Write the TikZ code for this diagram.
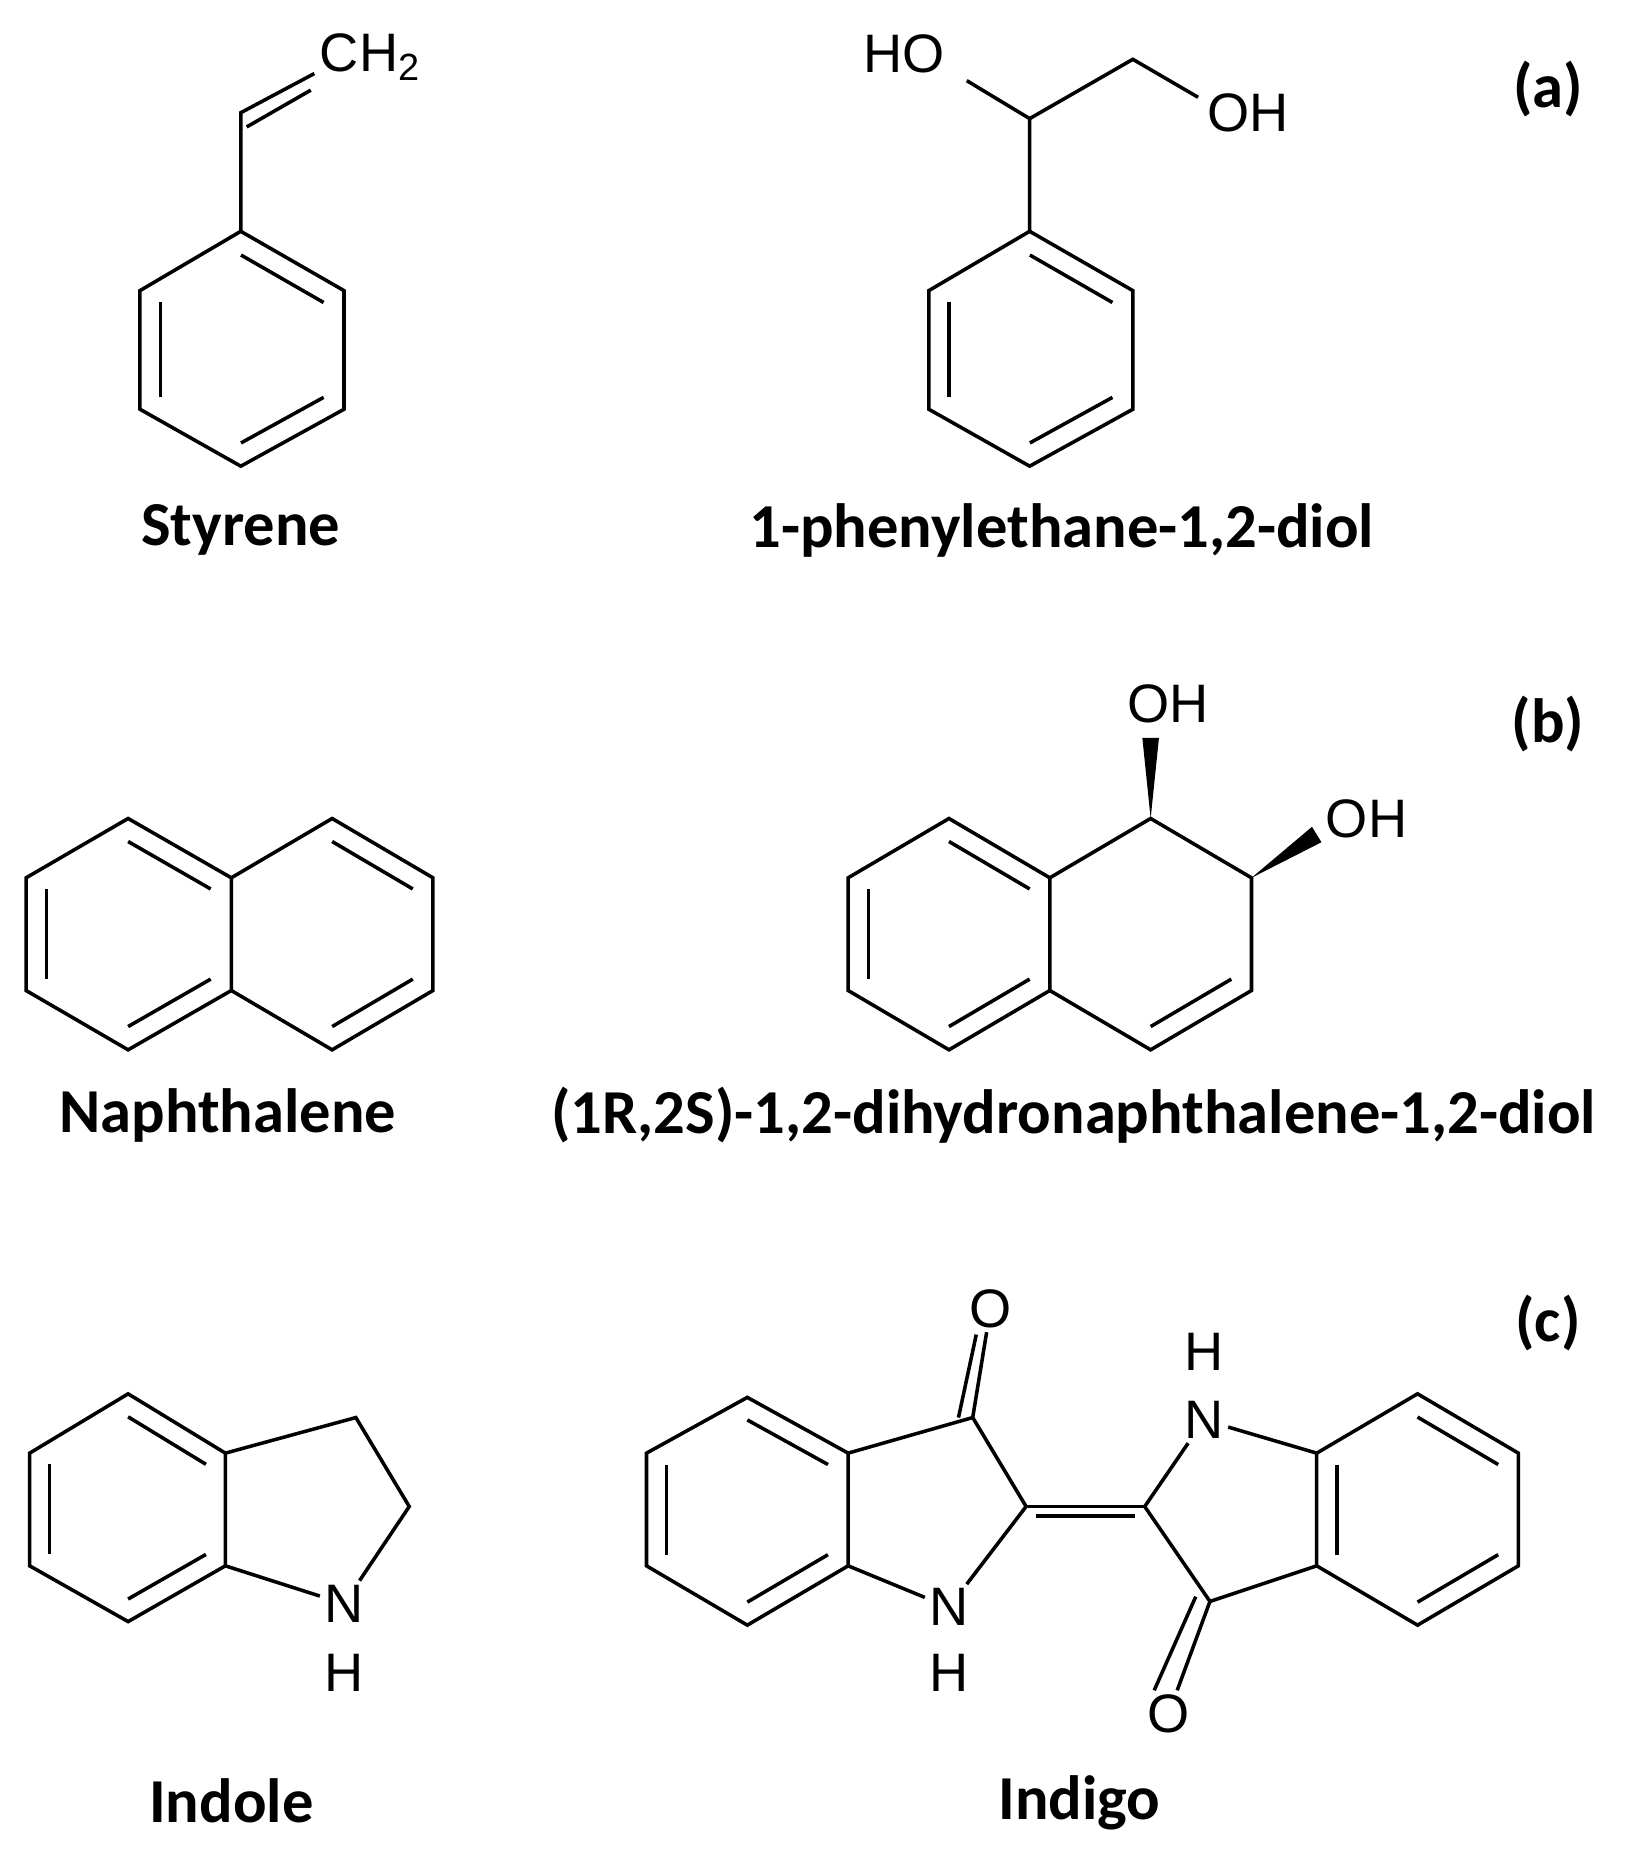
\documentclass[tikz,border=0pt]{standalone}
\usepackage{fontspec}
\setmainfont{Liberation Sans}
\newfontfamily\capfont{Carlito}
\usetikzlibrary{calc}
\tikzset{
  bond/.style={line width=1.7pt},
  atom/.style={font=\fontsize{26}{26}\selectfont, inner sep=2pt},
  caption/.style={font=\capfont\bfseries\fontsize{30}{30}\selectfont},
}
% inner line of a double bond, pulled toward the ring centre
\newcommand{\inner}[3]{\draw[bond] ($(#1)!0.2!(#3)$) -- ($(#2)!0.2!(#3)$);}
\begin{document}
\begin{tikzpicture}[x=0.02cm, y=-0.02cm]%
   \useasboundingbox (0,0) rectangle (1380,1568);

   % (a) Styrene
   \coordinate (s1) at (203,195); \coordinate (s2) at (290,245);
   \coordinate (s3) at (290,345); \coordinate (s4) at (203,393);
   \coordinate (s5) at (118,345); \coordinate (s6) at (118,245);
   \coordinate (sc) at (204,295);
   \draw[bond] (s1)--(s2)--(s3)--(s4)--(s5)--(s6)--cycle;
   \inner{s1}{s2}{sc} \inner{s3}{s4}{sc} \inner{s5}{s6}{sc}
   \coordinate (v1) at (203,95);
   \node[atom] (ch2) at (312,48) {CH\textsubscript{2}};
   \draw[bond] (s1) -- (v1) -- (265,62);
   \draw[bond] ($(v1)+(5,12)$) -- (262,76);
   \node[caption] (styr) at (203,447) {Styrene};

   % (a) 1-phenylethane-1,2-diol
   \coordinate (d1) at (868,195); \coordinate (d2) at (955,245);
   \coordinate (d3) at (955,345); \coordinate (d4) at (868,393);
   \coordinate (d5) at (783,345); \coordinate (d6) at (783,245);
   \coordinate (dc) at (869,295);
   \draw[bond] (d1)--(d2)--(d3)--(d4)--(d5)--(d6)--cycle;
   \inner{d1}{d2}{dc} \inner{d3}{d4}{dc} \inner{d5}{d6}{dc}
   \coordinate (c1) at (868,100); \coordinate (c2) at (955,50);
   \node[atom] (ho) at (762,45) {HO};
   \node[atom] (oh) at (1052,95) {OH};
   \draw[bond] (d1) -- (c1) -- (815,68);
   \draw[bond] (c1) -- (c2) -- (1010,82);
   \node[caption] (diol) at (895,447) {1-phenylethane-1,2-diol};
   \node[caption] (la) at (1305,75) {(a)};

   % (b) Naphthalene
   \coordinate (n1) at (108,690); \coordinate (n2) at (195,740);
   \coordinate (n3) at (195,835); \coordinate (n4) at (108,885);
   \coordinate (n5) at (22,835);  \coordinate (n6) at (22,740);
   \coordinate (n7) at (280,690); \coordinate (n8) at (365,740);
   \coordinate (n9) at (365,835); \coordinate (n10) at (280,885);
   \coordinate (nl) at (108,787); \coordinate (nr) at (280,787);
   \draw[bond] (n1)--(n2)--(n3)--(n4)--(n5)--(n6)--cycle;
   \draw[bond] (n2)--(n7)--(n8)--(n9)--(n10)--(n3);
   \inner{n1}{n2}{nl} \inner{n3}{n4}{nl} \inner{n5}{n6}{nl}
   \inner{n7}{n8}{nr} \inner{n9}{n10}{nr}
   \node[caption] (naph) at (192,940) {Naphthalene};

   % (b) dihydrodiol
   \coordinate (h1) at (800,690); \coordinate (h2) at (885,740);
   \coordinate (h3) at (885,835); \coordinate (h4) at (800,885);
   \coordinate (h5) at (715,835); \coordinate (h6) at (715,740);
   \coordinate (h7) at (970,690); \coordinate (h8) at (1055,740);
   \coordinate (h9) at (1055,835); \coordinate (h10) at (970,885);
   \coordinate (hl) at (800,787); \coordinate (hr) at (970,787);
   \draw[bond] (h1)--(h2)--(h3)--(h4)--(h5)--(h6)--cycle;
   \draw[bond] (h2)--(h7)--(h8)--(h9)--(h10)--(h3);
   \inner{h1}{h2}{hl} \inner{h3}{h4}{hl} \inner{h5}{h6}{hl}
   \inner{h9}{h10}{hr}
   \node[atom] (oh1) at (985,593) {OH};
   \node[atom] (oh2) at (1152,690) {OH};
   \fill (h7) -- (963,622) -- (977,622) -- cycle;
   \fill (h8) -- (1106,697) -- (1114,710) -- cycle;
   \node[caption] (dhd) at (905,940) {(1R,2S)-1,2-dihydronaphthalene-1,2-diol};
   \node[caption] (lb) at (1305,610) {(b)};

   % (c) Indole
   \coordinate (i1) at (108,1175); \coordinate (i2) at (190,1225);
   \coordinate (i3) at (190,1320); \coordinate (i4) at (108,1367);
   \coordinate (i5) at (25,1320);  \coordinate (i6) at (25,1225);
   \coordinate (ic) at (108,1272);
   \draw[bond] (i1)--(i2)--(i3)--(i4)--(i5)--(i6)--cycle;
   \inner{i1}{i2}{ic} \inner{i3}{i4}{ic} \inner{i5}{i6}{ic}
   \node[atom] (in) at (290,1352) {N};
   \node[atom] (inh) at (290,1410) {H};
   \draw[bond] (i2) -- (300,1195) -- (345,1270) -- (in);
   \draw[bond] (in) -- (i3);
   \node[caption] (indole) at (195,1518) {Indole};
   \node[caption] (lc) at (1305,1115) {(c)};

   % (c) Indigo
   \coordinate (g1) at (630,1178); \coordinate (g2) at (715,1225);
   \coordinate (g3) at (715,1320); \coordinate (g4) at (630,1370);
   \coordinate (g5) at (545,1320); \coordinate (g6) at (545,1225);
   \coordinate (gc) at (630,1273);
   \draw[bond] (g1)--(g2)--(g3)--(g4)--(g5)--(g6)--cycle;
   \inner{g1}{g2}{gc} \inner{g3}{g4}{gc} \inner{g5}{g6}{gc}
   \coordinate (k1) at (820,1195); \coordinate (k2) at (865,1270);
   \coordinate (k3) at (965,1270); \coordinate (k4) at (1020,1350);
   \node[atom] (gn1) at (800,1355) {N};
   \node[atom] (gh1) at (800,1410) {H};
   \node[atom] (go1) at (835,1103) {O};
   \node[atom] (gn2) at (1015,1197) {N};
   \node[atom] (gh2) at (1015,1140) {H};
   \node[atom] (go2) at (985,1445) {O};
   \draw[bond] (g2) -- (k1) -- (k2) -- (gn1) -- (g3);
   \draw[bond] (k1) -- (go1);
   \draw[bond] ($(k1)+(-12,0)$) -- ($(go1.south)+(-12,2)$);
   \draw[bond] (k2) -- (k3);
   \draw[bond] ($(k2)+(8,8)$) -- ($(k3)+(-8,8)$);
   \coordinate (r1) at (1110,1225); \coordinate (r2) at (1195,1175);
   \coordinate (r3) at (1280,1225); \coordinate (r4) at (1280,1320);
   \coordinate (r5) at (1195,1370); \coordinate (r6) at (1110,1320);
   \coordinate (rc) at (1195,1273);
   \draw[bond] (r1)--(r2)--(r3)--(r4)--(r5)--(r6)--cycle;
   \inner{r2}{r3}{rc} \inner{r4}{r5}{rc} \inner{r6}{r1}{rc}
   \draw[bond] (k3) -- (gn2) -- (r1);
   \draw[bond] (k3) -- (k4) -- (r6);
   \draw[bond] (k4) -- (go2);
   \draw[bond] ($(k4)+(-12,-4)$) -- ($(go2.north)+(-12,0)$);
   \node[caption] (indigo) at (910,1520) {Indigo};
 \end{tikzpicture}
\end{document}
